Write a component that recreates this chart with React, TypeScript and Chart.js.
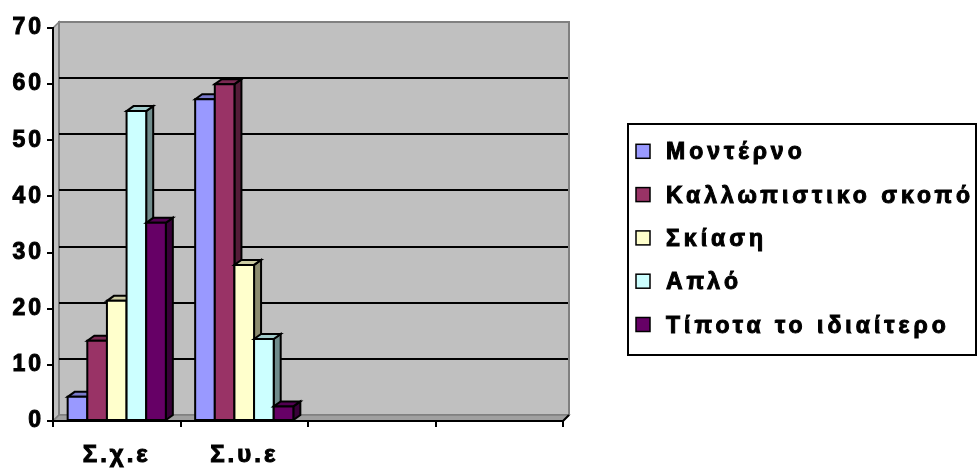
import React, { useEffect, useRef } from "react";
import { Chart, registerables } from "chart.js";

Chart.register(...registerables);

const categories = ["Σ.χ.ε", "Σ.υ.ε", "", ""];
const seriesNames = [
  "Μοντέρνο",
  "Καλλωπιστικο σκοπό",
  "Σκίαση",
  "Απλό",
  "Τίποτα το ιδιαίτερο",
];
const modernValues = [4.3, 57.3, null, null];
const decorativeValues = [14.3, 60, null, null];
const shadingValues = [21.4, 27.8, null, null];
const simpleValues = [55.2, 14.6, null, null];
const nothingValues = [35.3, 2.6, null, null];
const seriesColors = ["#9999FF", "#993366", "#FFFFCC", "#CCFFFF", "#660066"];
const yMin = 0;
const yMax = 70;
const yStep = 10;

const BAR_DX = 7;
const BAR_DY = -5;
const WALL_DX = 6;
const WALL_DY = -6;
const FONT = '"Liberation Sans", Arial, sans-serif';

function shade(hex: string, f: number): string {
  const n = parseInt(hex.slice(1), 16);
  const r = Math.round(((n >> 16) & 255) * f);
  const g = Math.round(((n >> 8) & 255) * f);
  const b = Math.round((n & 255) * f);
  return `rgb(${r},${g},${b})`;
}

function poly(ctx: CanvasRenderingContext2D, pts: number[][], fill: string, stroke: string, lw: number) {
  ctx.beginPath();
  ctx.moveTo(pts[0][0], pts[0][1]);
  for (let i = 1; i < pts.length; i++) ctx.lineTo(pts[i][0], pts[i][1]);
  ctx.closePath();
  ctx.fillStyle = fill;
  ctx.fill();
  if (stroke) {
    ctx.strokeStyle = stroke;
    ctx.lineWidth = lw;
    ctx.lineJoin = "miter";
    ctx.stroke();
  }
}

const wallPlugin = {
  id: "wall3d",
  beforeDraw(chart: any) {
    const { ctx, chartArea: a, scales } = chart;
    const y = scales.y;
    const L = a.left, R = a.right, T = a.top, B = a.bottom;
    ctx.save();
    poly(ctx, [[L, T], [L + WALL_DX, T + WALL_DY], [L + WALL_DX, B + WALL_DY], [L, B]], "#C0C0C0", "#808080", 1.5);
    poly(ctx, [[L + WALL_DX, T + WALL_DY], [R + WALL_DX, T + WALL_DY], [R + WALL_DX, B + WALL_DY], [L + WALL_DX, B + WALL_DY]], "#C0C0C0", "#808080", 2);
    poly(ctx, [[L, B], [L + WALL_DX, B + WALL_DY], [R + WALL_DX, B + WALL_DY], [R, B]], "#A0A0A0", "#808080", 1.5);
    ctx.strokeStyle = "#000";
    ctx.lineWidth = 2;
    for (let v = yMin + yStep; v < yMax; v += yStep) {
      const yy = Math.round(y.getPixelForValue(v) + WALL_DY);
      ctx.beginPath();
      ctx.moveTo(L + WALL_DX, yy);
      ctx.lineTo(R + WALL_DX - 1, yy);
      ctx.stroke();
    }
    ctx.strokeStyle = "#000";
    ctx.lineWidth = 2;
    ctx.beginPath();
    ctx.moveTo(R, B);
    ctx.lineTo(R + WALL_DX, B + WALL_DY);
    ctx.stroke();
    ctx.restore();
    ctx.letterSpacing = "3px";
  },
  beforeDatasetsDraw(chart: any) {
    const ctx = chart.ctx;
    const n = chart.data.labels.length;
    ctx.save();
    for (let j = 0; j < n; j++) {
      for (let i = 0; i < chart.data.datasets.length; i++) {
        const ds = chart.data.datasets[i];
        const v = ds.data[j];
        if (v == null) continue;
        const el = chart.getDatasetMeta(i).data[j];
        if (!el) continue;
        const { x, y, base, width } = el.getProps(["x", "y", "base", "width"], true);
        const Lx = x - width / 2;
        const Rx = x + width / 2;
        const col = ds.backgroundColor as string;
        poly(ctx, [[Rx, y], [Rx + BAR_DX, y + BAR_DY], [Rx + BAR_DX, base + BAR_DY], [Rx, base]], shade(col, 0.55), "#000", 2);
        poly(ctx, [[Lx, y], [Lx + BAR_DX, y + BAR_DY], [Rx + BAR_DX, y + BAR_DY], [Rx, y]], shade(col, 0.8), "#000", 2);
        poly(ctx, [[Lx, y], [Rx, y], [Rx, base], [Lx, base]], col, "#000", 2);
      }
    }
    ctx.restore();
    return false;
  },
  afterDraw(chart: any) {
    const ctx = chart.ctx;
    ctx.save();
    ctx.strokeStyle = "#000";
    ctx.lineWidth = 2;
    ctx.strokeRect(628, 124, 348, 231);
    ctx.font = `bold 23px ${FONT}`;
    ctx.letterSpacing = "4px";
    ctx.textBaseline = "alphabetic";
    ctx.textAlign = "left";
    chart.data.datasets.forEach((ds: any, i: number) => {
      const cy = 151.3 + i * 43.3;
      ctx.fillStyle = ds.backgroundColor;
      ctx.fillRect(636, cy - 7, 14, 14);
      ctx.strokeStyle = "#000";
      ctx.lineWidth = 1.5;
      ctx.strokeRect(636, cy - 7, 14, 14);
      ctx.fillStyle = "#000";
      ctx.fillText(ds.label, 666, cy + 8);
      ctx.lineWidth = 1;
      ctx.strokeText(ds.label, 666, cy + 8);
    });
    ctx.restore();
    ctx.letterSpacing = "0px";
  },
};

export default function App() {
  const ref = useRef<HTMLCanvasElement | null>(null);
  useEffect(() => {
    if (!ref.current) return;
    const valueSeries = [modernValues, decorativeValues, shadingValues, simpleValues, nothingValues];
    const chart = new Chart(ref.current, {
      type: "bar",
      data: {
        labels: categories,
        datasets: seriesNames.map((name, i) => ({
          label: name,
          data: valueSeries[i],
          backgroundColor: seriesColors[i],
          borderColor: "#000",
          borderWidth: 1,
          categoryPercentage: 0.77,
          barPercentage: 1,
        })),
      },
      options: {
        responsive: false,
        animation: false,
        devicePixelRatio: 1,
        layout: { padding: { top: 28, right: 414, left: 0, bottom: 0 } },
        plugins: { legend: { display: false }, tooltip: { enabled: false } },
        scales: {
          x: {
            grid: { offset: true, drawOnChartArea: false, drawTicks: true, tickLength: 6, color: "#000", lineWidth: 2 },
            border: { display: true, color: "#000", width: 2 },
            ticks: { color: "#000", font: { family: FONT, size: 24, weight: "bold" }, padding: 14, maxRotation: 0, textStrokeColor: "#000", textStrokeWidth: 1 },
            afterFit: (s: any) => { s.height = 49; },
          },
          y: {
            min: yMin,
            max: yMax,
            ticks: { stepSize: yStep, color: "#000", font: { family: FONT, size: 23, weight: "bold" }, padding: 3, textStrokeColor: "#000", textStrokeWidth: 1 },
            grid: { drawOnChartArea: false, drawTicks: true, tickLength: 6, color: "#000", lineWidth: 2 },
            border: { display: true, color: "#000", width: 2 },
            afterFit: (s: any) => { s.width = 53; },
          },
        },
      },
      plugins: [wallPlugin],
    });
    return () => chart.destroy();
  }, []);
  return (
    <div style={{ position: "fixed", left: 0, top: 0, width: 977, height: 470, background: "#fff" }}>
      <canvas ref={ref} width={977} height={470} style={{ display: "block" }} />
    </div>
  );
}
